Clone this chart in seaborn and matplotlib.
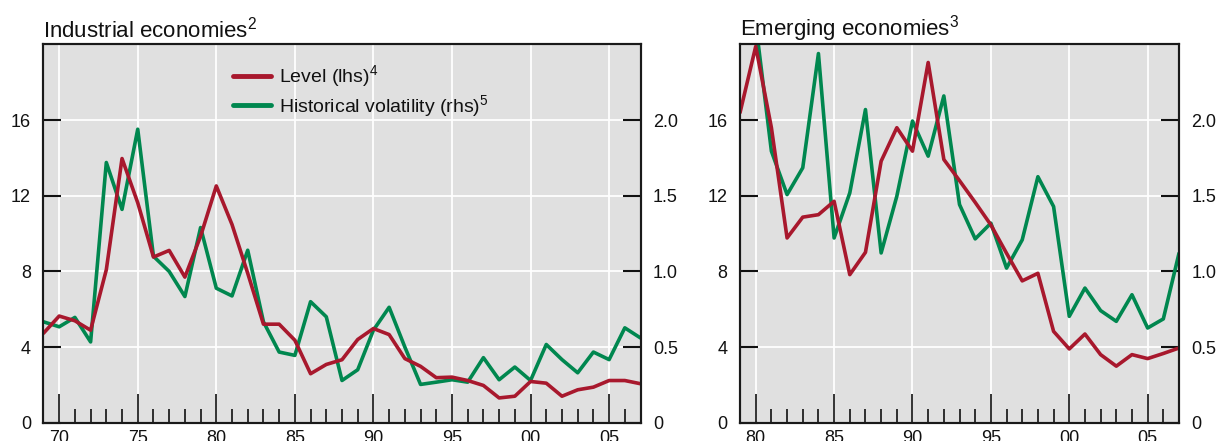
import numpy as np
import matplotlib
matplotlib.use("Agg")
import matplotlib.pyplot as plt
from matplotlib.lines import Line2D
from matplotlib.ticker import MultipleLocator, FixedLocator
import seaborn as sns

sns.set_style("white", {"axes.facecolor": "#e0e0e0", "axes.edgecolor": "#1a1a1a"})
plt.rcParams.update({
    "font.family": ["Liberation Sans", "DejaVu Sans"],
    "mathtext.default": "regular",
    "axes.linewidth": 1.5,
    "text.color": "#111111",
    "xtick.bottom": True,
})

RED = "#a8182d"
GREEN = "#00874f"

# Industrial economies, 1969-2007
ind_years = list(range(1969, 2008))
ind_level = [4.73, 5.64, 5.39, 4.89, 8.09, 13.97, 11.63, 8.76, 9.11, 7.70,
             9.86, 12.52, 10.48, 7.90, 5.21, 5.21, 4.36, 2.59, 3.08, 3.33,
             4.40, 4.98, 4.66, 3.39, 2.98, 2.38, 2.41, 2.23, 1.97, 1.31,
             1.40, 2.18, 2.09, 1.40, 1.74, 1.88, 2.23, 2.23, 2.06]
ind_vol = [0.667, 0.634, 0.696, 0.534, 1.72, 1.41, 1.94, 1.10, 1.00, 0.834,
           1.29, 0.889, 0.838, 1.14, 0.667, 0.467, 0.445, 0.80, 0.70, 0.279,
           0.35, 0.612, 0.763, 0.50, 0.253, 0.268, 0.284, 0.268, 0.43, 0.284,
           0.368, 0.279, 0.517, 0.417, 0.33, 0.467, 0.417, 0.627, 0.56]

# Emerging economies, 1979-2007
em_years = list(range(1979, 2008))
em_level = [16.4, 19.9, 15.6, 9.77, 10.87, 11.0, 11.71, 7.83, 9.01, 13.83,
            15.6, 14.36, 19.05, 13.92, 12.8, 11.65, 10.46, 8.96, 7.5, 7.9,
            4.83, 3.9, 4.69, 3.6, 2.99, 3.6, 3.39, 3.66, 3.95]
em_vol = [np.nan, 2.64, 1.795, 1.508, 1.685, 2.44, 1.221, 1.519, 2.07, 1.122,
          1.497, 1.994, 1.762, 2.16, 1.442, 1.215, 1.319, 1.022, 1.209, 1.626,
          1.429, 0.703, 0.89, 0.741, 0.67, 0.846, 0.626, 0.686, 1.12]

lhs_ticks = [0, 4, 8, 12, 16]
rhs_ticks = [0, 0.5, 1.0, 1.5, 2.0]
rhs_labels = ["0", "0.5", "1.0", "1.5", "2.0"]

fig = plt.figure(figsize=(12.21, 4.41), dpi=100)
ax_l = fig.add_axes([0.0356, 0.0415, 0.489, 0.8576])
ax_r = fig.add_axes([0.6061, 0.0415, 0.3595, 0.8576])


def draw_panel(ax, years, level, vol, xlim, majors, title):
    # primary axis holds volatility (rhs), twin holds level (lhs) so red sits on top
    tw = ax.twinx()
    sns.lineplot(x=years, y=vol, ax=ax, color=GREEN, linewidth=2.6, legend=False)
    sns.lineplot(x=years, y=level, ax=tw, color=RED, linewidth=2.6, legend=False)

    ax.set_xlim(*xlim)
    ax.set_ylim(0, 2.5)
    tw.set_ylim(0, 20)

    ax.yaxis.tick_right()
    tw.yaxis.tick_left()
    ax.yaxis.set_major_locator(FixedLocator(rhs_ticks))
    ax.set_yticklabels(rhs_labels)
    tw.yaxis.set_major_locator(FixedLocator(lhs_ticks))
    tw.set_yticklabels([str(t) for t in lhs_ticks])

    ax.xaxis.set_major_locator(FixedLocator(majors))
    ax.xaxis.set_minor_locator(MultipleLocator(1))
    ax.set_xticklabels([f"{y % 100:02d}" for y in majors])

    for a in (ax, tw):
        a.tick_params(axis="y", direction="in", length=13, width=1.5,
                      labelsize=13, pad=9, colors="#111111")
        a.set_xlabel("")
        a.set_ylabel("")
        for s in a.spines.values():
            s.set_color("#1a1a1a")
            s.set_linewidth(1.5)
    ax.tick_params(axis="x", which="both", bottom=True, top=False)
    ax.tick_params(axis="x", which="major", direction="in", length=21, width=1.2,
                   labelsize=13, pad=5, colors="#111111")
    ax.tick_params(axis="x", which="minor", direction="in", length=10, width=1.2,
                   colors="#111111")

    ax.grid(True, which="major", color="white", linewidth=1.3)
    ax.set_axisbelow(True)
    ax.set_title(title, loc="left", fontsize=16, pad=5, color="#111111")
    return tw


draw_panel(ax_l, ind_years, ind_level, ind_vol, (1969, 2007),
           list(range(1970, 2006, 5)), "Industrial economies$^2$")
draw_panel(ax_r, em_years, em_level, em_vol, (1979, 2007),
           list(range(1980, 2006, 5)), "Emerging economies$^3$")

handles = [Line2D([], [], color=RED, linewidth=3.5),
           Line2D([], [], color=GREEN, linewidth=3.5)]
leg = ax_l.legend(handles, ["Level (lhs)$^4$", "Historical volatility (rhs)$^5$"],
                  loc="upper left", bbox_to_anchor=(0.317, 0.95), frameon=False,
                  fontsize=14, handlelength=1.95, handletextpad=0.45,
                  labelspacing=0.2, borderpad=0, borderaxespad=0)
leg.set_zorder(10)

fig.savefig("out.png", dpi=100)
